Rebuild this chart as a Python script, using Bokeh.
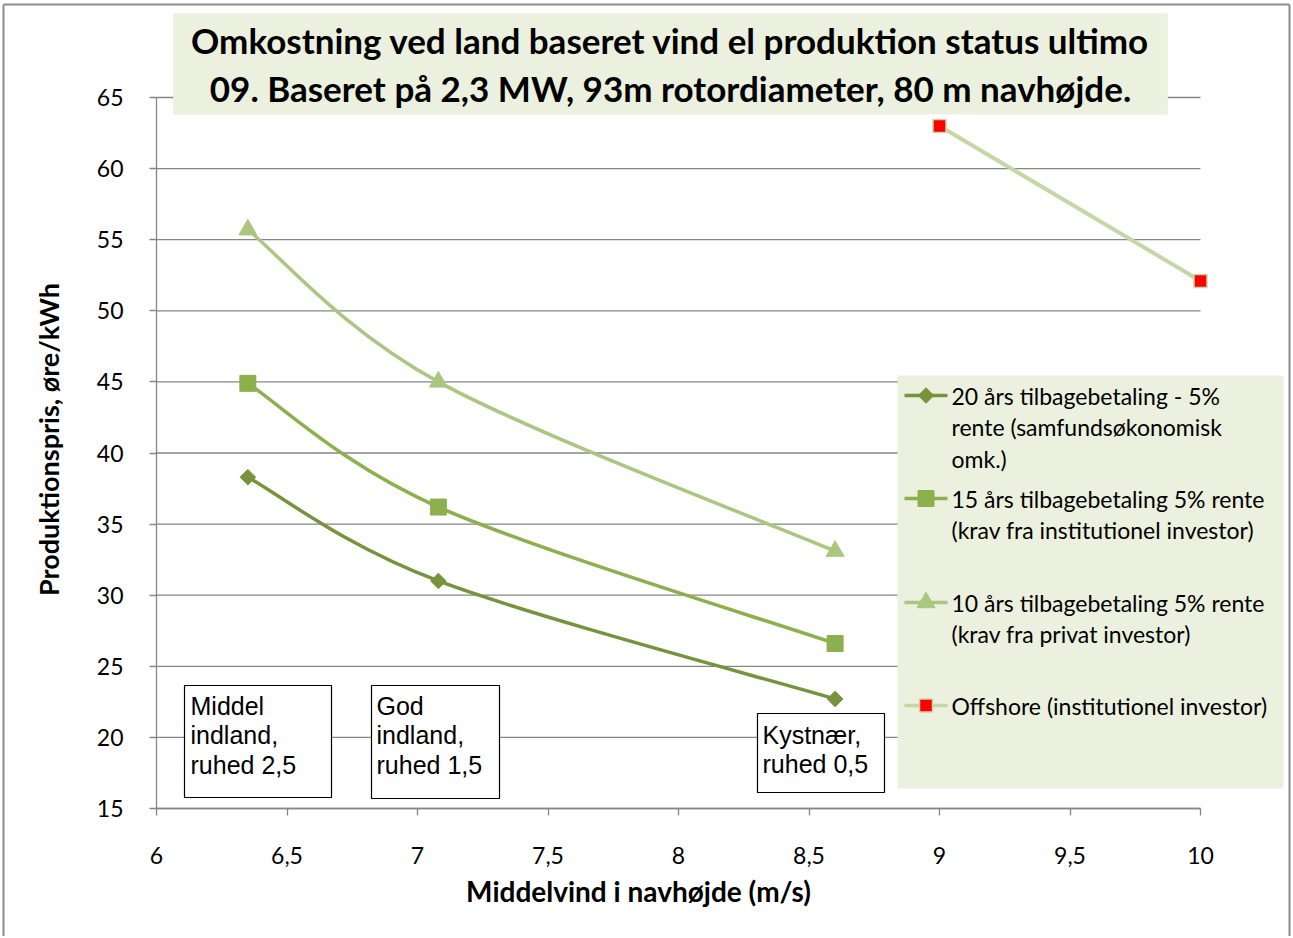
import numpy as np
from bokeh.plotting import figure
from bokeh.models import Range1d, FixedTicker, Label
from bokeh.core.properties import value
from bokeh.embed import file_html
from bokeh.resources import INLINE

# ---------------- data ----------------
wind_land = [6.35, 7.08, 8.6]
cost_20y = [38.3, 31.0, 22.7]
cost_15y = [44.9, 36.2, 26.6]
cost_10y = [55.7, 45.0, 33.1]
wind_off = [9.0, 10.0]
cost_off = [63.0, 52.1]

x_ticks = [6, 6.5, 7, 7.5, 8, 8.5, 9, 9.5, 10]
x_tick_labels = ["6", "6,5", "7", "7,5", "8", "8,5", "9", "9,5", "10"]
y_ticks = [15, 20, 25, 30, 35, 40, 45, 50, 55, 60, 65]
y_tick_labels = ["15", "20", "25", "30", "35", "40", "45", "50", "55", "60", "65"]

title_text = ("Omkostning ved land baseret vind el produktion status ultimo\n"
              "09. Baseret på 2,3 MW, 93m rotordiameter, 80 m navhøjde.")
x_title = "Middelvind i navhøjde (m/s)"
y_title = "Produktionspris, øre/kWh"
legend_labels = [
    ["20 års tilbagebetaling - 5%", "rente (samfundsøkonomisk", "omk.)"],
    ["15 års tilbagebetaling 5% rente", "(krav fra institutionel investor)"],
    ["10 års tilbagebetaling 5% rente", "(krav fra privat investor)"],
    ["Offshore (institutionel investor)"],
]
box_texts = [["Middel", "indland,", "ruhed 2,5"],
             ["God", "indland,", "ruhed 1,5"],
             ["Kystnær,", "ruhed 0,5"]]

# ---------------- layout ----------------
W, H = 1291, 936
AX_L, AX_T, AX_R, AX_B = 156, 97, 1200, 808   # axes box in canvas pixels
PX_X = (AX_R - AX_L) / 4.0
PX_Y = (AX_B - AX_T) / 50.0


def X(px):
    return 6 + (px - AX_L) / PX_X


def Y(py):
    return 65 - (py - AX_T) / PX_Y


GRID = "#868686"
C1, C2, C3, C4 = "#77933C", "#8DB04F", "#ABC680", "#C4D7A4"
BG = "#EBF1DE"
FONT = "Lato"

p = figure(width=W, height=H, output_backend="svg", toolbar_location=None,
           title=None,
           x_range=Range1d(X(0), X(W)), y_range=Range1d(Y(H), Y(0)),
           min_border=0, min_border_left=0, min_border_right=0,
           min_border_top=0, min_border_bottom=0,
           background_fill_color="white", border_fill_color="white")
p.outline_line_color = None
p.xgrid.visible = False
p.ygrid.visible = False

# outer chart border
p.segment(x0=[X(3), X(3), X(1289)], x1=[X(3), X(1289), X(1289)],
          y0=[Y(950), Y(4), Y(4)], y1=[Y(4), Y(4), Y(950)],
          line_color="#8c8c8c", line_width=2)

# axes (placed at data positions)
xa = p.xaxis[0]
xa.fixed_location = 15
xa.ticker = FixedTicker(ticks=x_ticks)
xa.major_label_overrides = dict(zip(x_ticks, x_tick_labels))
xa.bounds = (6, 10)
ya = p.yaxis[0]
ya.fixed_location = 6
ya.ticker = FixedTicker(ticks=y_ticks)
ya.major_label_overrides = dict(zip(y_ticks, y_tick_labels))
ya.bounds = (15, 65)
for ax in (xa, ya):
    ax.axis_line_color = GRID
    ax.axis_line_width = 1.3
    ax.major_tick_line_color = GRID
    ax.major_tick_line_width = 1.3
    ax.major_tick_in = 0
    ax.major_tick_out = 7
    ax.minor_tick_line_color = None
    ax.major_label_text_font = FONT
    ax.major_label_text_font_size = "23px"
    ax.major_label_text_color = "black"
xa.major_label_standoff = 31
ya.major_label_standoff = 26

# horizontal gridlines (only across the axes box)
p.segment(x0=[6] * len(y_ticks), x1=[10] * len(y_ticks), y0=y_ticks, y1=y_ticks,
          line_color=GRID, line_width=1.3)


def smooth(xs, ys):
    P = np.column_stack([xs, ys]).astype(float)
    n = len(P)
    ext = np.vstack([P[0], P, P[-1]])
    seg = dict(x0=[], y0=[], x1=[], y1=[], cx0=[], cy0=[], cx1=[], cy1=[])
    for i in range(n - 1):
        p0, p1, p2, p3 = ext[i], ext[i + 1], ext[i + 2], ext[i + 3]
        c1 = p1 + (p2 - p0) / 6.0
        c2 = p2 - (p3 - p1) / 6.0
        seg["x0"].append(p1[0]); seg["y0"].append(p1[1])
        seg["x1"].append(p2[0]); seg["y1"].append(p2[1])
        seg["cx0"].append(c1[0]); seg["cy0"].append(c1[1])
        seg["cx1"].append(c2[0]); seg["cy1"].append(c2[1])
    return seg


for ys, col in ((cost_10y, C3), (cost_15y, C2), (cost_20y, C1)):
    p.bezier(**smooth(wind_land, ys), line_color=col, line_width=3.5)

p.line(wind_off, cost_off, line_color=C4, line_width=4)

m1 = dict(marker="square", angle=np.pi / 4, size=11, fill_color=C1, line_color=C1)
m2 = dict(marker="square", size=16, fill_color=C2, line_color=C2)
m3 = dict(marker="triangle", size=18, fill_color=C3, line_color=C3)
m4 = dict(marker="square", size=13, fill_color="#FF0000", line_color=C4, line_width=1.5)
p.scatter(wind_land, cost_10y, **m3)
p.scatter(wind_land, cost_15y, **m2)
p.scatter(wind_land, cost_20y, **m1)
p.scatter(wind_off, cost_off, **m4)

# text boxes
boxes = [(184, 331, 685, 797, 190, 705), (371, 499, 685, 798, 376, 705),
         (757, 884, 713, 792, 762, 734)]
for (l, r, t, b, tx, ty), lines in zip(boxes, box_texts):
    p.quad(left=X(l), right=X(r), top=Y(t), bottom=Y(b), fill_color="white",
           line_color="black", line_width=1.2)
    p.text(x=[X(tx)] * len(lines), y=[Y(ty + 29.5 * k) for k in range(len(lines))],
           text=lines, text_font=value("Liberation Sans"), text_font_size="25px",
           text_baseline="middle", text_align="left", text_color="black")

# legend
p.quad(left=X(897), right=X(1283), top=Y(375), bottom=Y(788), fill_color=BG,
       line_color=None)
item_y = [395, 498, 602, 705]
for lines, iy, col, mk in zip(legend_labels, item_y, (C1, C2, C3, C4), (m1, m2, m3, m4)):
    p.segment(x0=[X(904)], x1=[X(947)], y0=[Y(iy)], y1=[Y(iy)], line_color=col,
              line_width=3.5)
    p.scatter([X(925.5)], [Y(iy)], **mk)
    p.text(x=[X(951)] * len(lines), y=[Y(iy + 31.5 * k) for k in range(len(lines))],
           text=lines, text_font=value(FONT), text_font_size="23px",
           text_baseline="middle", text_align="left", text_color="black")

# title
p.add_layout(Label(x=X(670), y=Y(63.5), text=title_text, text_font=FONT,
                   text_font_size="35px", text_font_style="bold", text_align="center",
                   text_baseline="middle", text_line_height=1.12, text_color="black",
                   background_fill_color=BG, padding=(18, 6)))

# axis titles
p.add_layout(Label(x=X(638), y=Y(890), text=x_title, text_font=FONT,
                   text_font_size="28px", text_font_style="bold", text_color="black",
                   text_align="center", text_baseline="middle"))
p.add_layout(Label(x=X(48), y=Y(439), text=y_title, text_font=FONT,
                   text_font_size="27px", text_font_style="bold", angle=np.pi / 2,
                   text_color="black", text_align="center", text_baseline="middle"))

open("out.html", "w").write(file_html(p, INLINE))
